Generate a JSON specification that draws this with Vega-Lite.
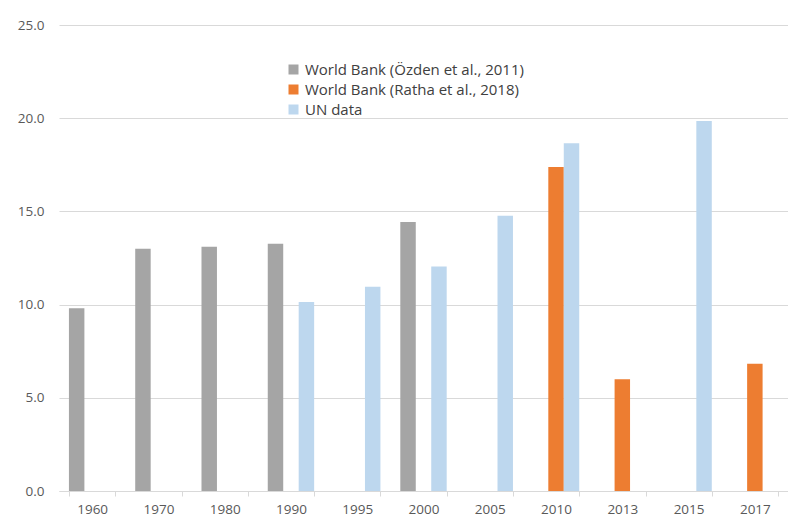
{
  "$schema": "https://vega.github.io/schema/vega-lite/v6.json",
  "autosize": "none",
  "padding": {"left": 59, "top": 25, "right": 0, "bottom": 29},
  "width": 729,
  "height": 466,
  "background": "white",
  "config": {"view": {"stroke": null}, "font": "Open Sans"},
  "data": {
    "values": [
      {"year": "1960", "series": "World Bank (Özden et al., 2011)", "value": 9.8},
      {"year": "1970", "series": "World Bank (Özden et al., 2011)", "value": 13.0},
      {"year": "1980", "series": "World Bank (Özden et al., 2011)", "value": 13.1},
      {"year": "1990", "series": "World Bank (Özden et al., 2011)", "value": 13.27},
      {"year": "1990", "series": "UN data", "value": 10.14},
      {"year": "1995", "series": "UN data", "value": 10.96},
      {"year": "2000", "series": "World Bank (Özden et al., 2011)", "value": 14.43},
      {"year": "2000", "series": "UN data", "value": 12.05},
      {"year": "2005", "series": "UN data", "value": 14.77},
      {"year": "2010", "series": "World Bank (Ratha et al., 2018)", "value": 17.38},
      {"year": "2010", "series": "UN data", "value": 18.65},
      {"year": "2013", "series": "World Bank (Ratha et al., 2018)", "value": 5.99},
      {"year": "2015", "series": "UN data", "value": 19.85},
      {"year": "2017", "series": "World Bank (Ratha et al., 2018)", "value": 6.83}
    ]
  },
  "mark": {"type": "bar"},
  "encoding": {
    "x": {
      "field": "year",
      "type": "nominal",
      "sort": ["1960", "1970", "1980", "1990", "1995", "2000", "2005", "2010", "2013", "2015", "2017"],
      "scale": {"paddingInner": 0.3, "paddingOuter": 0.15},
      "axis": {
        "title": null,
        "labelAngle": 0,
        "tickBand": "extent",
        "domainColor": "#d9d9d9",
        "tickColor": "#d9d9d9",
        "tickSize": 5,
        "labelColor": "#595959",
        "labelFontSize": 13.5,
        "labelPadding": 6,
        "grid": false
      }
    },
    "xOffset": {
      "field": "series",
      "type": "nominal",
      "sort": ["World Bank (Özden et al., 2011)", "World Bank (Ratha et al., 2018)", "UN data"],
      "scale": {"paddingInner": 0, "paddingOuter": 0}
    },
    "y": {
      "field": "value",
      "type": "quantitative",
      "scale": {"domain": [0, 25]},
      "axis": {
        "title": null,
        "values": [0, 5, 10, 15, 20, 25],
        "format": ".1f",
        "domain": false,
        "ticks": false,
        "labelPadding": 15,
        "gridColor": "#d9d9d9",
        "labelColor": "#595959",
        "labelFontSize": 13.5
      }
    },
    "color": {
      "field": "series",
      "type": "nominal",
      "scale": {
        "domain": ["World Bank (Özden et al., 2011)", "World Bank (Ratha et al., 2018)", "UN data"],
        "range": ["#A5A5A5", "#ED7D31", "#BDD7EE"]
      },
      "legend": {
        "title": null,
        "orient": "none",
        "legendX": 227,
        "legendY": 37,
        "symbolType": "square",
        "symbolSize": 100,
        "symbolStrokeWidth": 0,
        "labelFontSize": 15,
        "labelColor": "#404040",
        "labelOffset": 4,
        "labelLimit": 0,
        "rowPadding": 4
      }
    }
  }
}
